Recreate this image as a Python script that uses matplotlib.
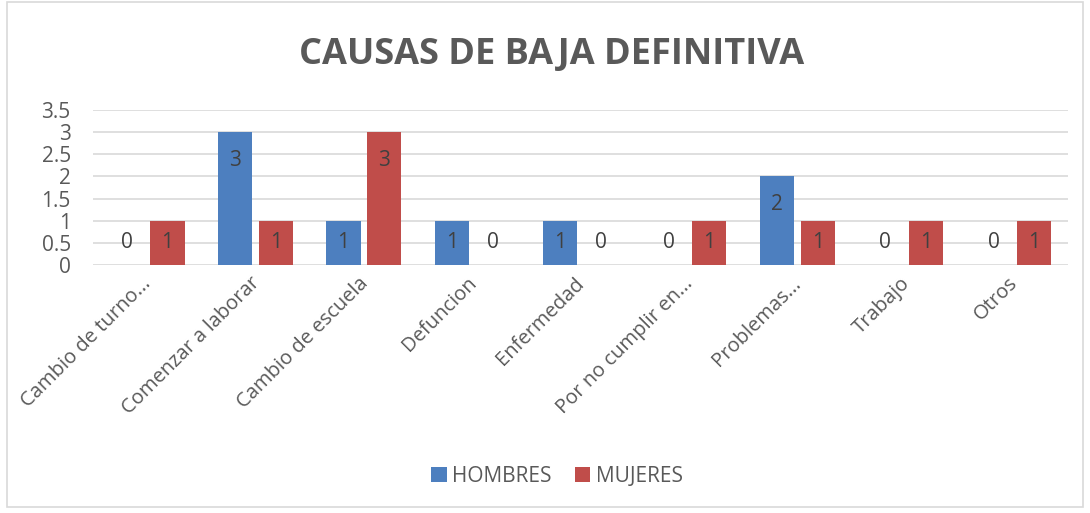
"""Bar chart of causes of definitive withdrawal (hombres vs mujeres)"""

import numpy as np
import matplotlib.pyplot as plt
import matplotlib.transforms as mtransforms
from matplotlib.patches import Rectangle

plt.rcParams["font.family"] = ["Open Sans", "DejaVu Sans"]

# DATA
categories = [
    "Cambio de turno...",
    "Comenzar a laborar",
    "Cambio de escuela",
    "Defuncion",
    "Enfermedad",
    "Por no cumplir en...",
    "Problemas...",
    "Trabajo",
    "Otros",
]
hombres = [0, 3, 1, 1, 1, 0, 2, 0, 0]
mujeres = [1, 1, 3, 0, 0, 1, 1, 1, 1]
y_ticks = [0, 0.5, 1, 1.5, 2, 2.5, 3, 3.5]

blue = "#4d7fbf"
red = "#c04d4a"
text_col = "#595959"

fig = plt.figure(figsize=(10.9, 5.13), dpi=100)
ax = fig.add_axes([0.0853, 0.4834, 0.8947, 0.3022])

# chart border
fig.patches.append(Rectangle((0.006, 0.012), 0.988, 0.985, transform=fig.transFigure,
                             fill=False, edgecolor="#d9d9d9", linewidth=1.2))

x = np.arange(len(categories))
w = 0.315
gap = 0.03
b1 = ax.bar(x - w / 2 - gap, hombres, w, color=blue, label="HOMBRES", zorder=3)
b2 = ax.bar(x + w / 2 + gap, mujeres, w, color=red, label="MUJERES", zorder=3)

# data labels (inside end; short bars and zeros centred at 0.5)
for bars, vals in ((b1, hombres), (b2, mujeres)):
    for bar, v in zip(bars, vals):
        xc = bar.get_x() + bar.get_width() / 2
        ax.text(xc, max(v - 0.63, 0.5), str(v), ha="center", va="center",
                fontsize=15, color="#404040", zorder=4)

ax.set_xlim(-0.5, len(categories) - 0.5)
ax.set_ylim(0, 3.5)
ax.set_yticks(y_ticks)
ax.set_yticklabels([f"{t:g}" for t in y_ticks])
ax.yaxis.grid(True, color="#d9d9d9", linewidth=1.2, zorder=0)
ax.tick_params(axis="y", length=0, labelsize=15, labelcolor=text_col, pad=16)
for s in ax.spines.values():
    s.set_visible(False)

ax.set_xticks(x)
ax.set_xticklabels(categories, rotation=45, ha="right", rotation_mode="anchor",
                   fontsize=14.5, color=text_col)
ax.tick_params(axis="x", length=0, pad=6)
# nudge the rotated labels slightly left
shift = mtransforms.ScaledTranslation(-6 / 100, 0, fig.dpi_scale_trans)
for lbl in ax.get_xticklabels():
    lbl.set_transform(lbl.get_transform() + shift)

fig.text(0.506, 0.892, "CAUSAS DE BAJA DEFINITIVA", ha="center", va="center",
         fontsize=26, fontweight="bold", color=text_col)

fig.legend(handles=[b1, b2], loc="center", bbox_to_anchor=(0.511, 0.072), ncol=2,
           frameon=False, fontsize=15, handlelength=0.75, handleheight=0.75,
           handletextpad=0.25, columnspacing=1.1, labelcolor=text_col)

fig.savefig("out.png", dpi=100)
